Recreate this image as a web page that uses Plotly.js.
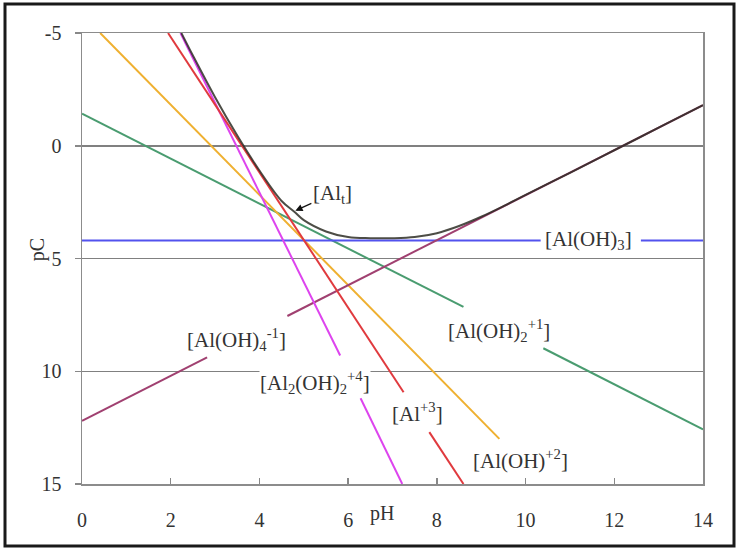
<!DOCTYPE html>
<html><head><meta charset="utf-8">
<script src="https://cdn.plot.ly/plotly-3.0.1.min.js"></script>
<style>html,body{margin:0;padding:0;background:#fff;} #chart{width:737px;height:548px;}</style>
</head><body><div id="chart"></div>
<script>
// Species lines (pH, pC); null = gap for a label
const pH_Al3 = [1.94, 7.25, null, 7.83, 8.6];
const pC_Al3 = [-5, 10.93, null, 12.7, 15];
const pH_AlOH = [0.41, 9.41];
const pC_AlOH = [-5, 13.0];
const pH_AlOH2 = [0, 8.6, null, 10.4, 14];
const pC_AlOH2 = [-1.42, 7.15, null, 8.98, 12.58];
const pH_AlOH3 = [0, 10.34, null, 12.6, 14];
const pC_AlOH3 = [4.2, 4.2, null, 4.2, 4.2];
const pH_AlOH4 = [0, 2.82, null, 4.63, 14];
const pC_AlOH4 = [12.2, 9.38, null, 7.55, -1.8];
const pH_Al2OH2 = [2.22, 5.82, null, 6.28, 7.22];
const pC_Al2OH2 = [-5, 9.3, null, 11.2, 15];
const pH_Alt = [2.24, 2.5, 3.0, 3.5, 4.0, 4.5, 4.8, 5.0, 5.5, 6.0, 6.5, 7.0, 7.5, 8.0, 8.5, 9.0, 9.5, 10.0, 11.0, 12.0, 13.0, 14.0];
const pC_Alt = [-5, -4.0, -2.15, -0.45, 1.1, 2.45, 2.95, 3.3, 3.8, 4.05, 4.1, 4.1, 4.05, 3.88, 3.56, 3.15, 2.68, 2.18, 1.2, 0.2, -0.8, -1.8];

const yTickVals = [-5, 0, 5, 10, 15];
const yTickText = ['-5', '0', '5', '10', '15'];
const xTickVals = [0, 2, 4, 6, 8, 10, 12, 14];
const xTickText = ['0', '2', '4', '6', '8', '10', '12', '14'];

const labels = [
  {x: 11.42, y: 4.2, text: '[Al(OH)<sub>3</sub>]'},
  {x: 9.39, y: 8.2, text: '[Al(OH)<sub>2</sub><sup>+1</sup>]'},
  {x: 9.89, y: 13.9, text: '[Al(OH)<sup>+2</sup>]'},
  {x: 7.56, y: 11.85, text: '[Al<sup>+3</sup>]'},
  {x: 5.26, y: 10.5, text: '[Al<sub>2</sub>(OH)<sub>2</sub><sup>+4</sup>]'},
  {x: 3.48, y: 8.6, text: '[Al(OH)<sub>4</sub><sup>-1</sup>]'}
];

const font = 'Liberation Serif, Times New Roman, serif';
function line(x, y, color, w) {
  return {x: x, y: y, type: 'scatter', mode: 'lines', connectgaps: false,
          line: {color: color, width: w || 2}, hoverinfo: 'skip', showlegend: false};
}
const traces = [
  line(pH_AlOH2, pC_AlOH2, '#4a9c70'),
  line(pH_AlOH, pC_AlOH, '#efb030'),
  line(pH_AlOH3, pC_AlOH3, '#5252ee'),
  line(pH_AlOH4, pC_AlOH4, '#a04070'),
  line(pH_Al2OH2, pC_Al2OH2, '#dd44ee'),
  line(pH_Al3, pC_Al3, '#e03a3e'),
];
const alt = line(pH_Alt, pC_Alt, '#2e2e26', 2);
alt.opacity = 0.85;
alt.line.shape = 'spline';
traces.push(alt);

const annotations = labels.map(l => ({
  x: l.x, y: l.y, xref: 'x', yref: 'y', text: l.text, showarrow: false,
  font: {family: font, size: 21, color: '#333'},
  bgcolor: l.text.indexOf('Al<sub>2</sub>') >= 0 ? '#ffffff' : 'rgba(0,0,0,0)', borderpad: 0
}));
annotations.push({
  x: 4.81, y: 2.88, xref: 'x', yref: 'y', text: '[Al<sub>t</sub>]',
  showarrow: true, ax: 37, ay: -17, arrowhead: 2, arrowsize: 1.2, arrowwidth: 1.2,
  arrowcolor: '#111', font: {family: font, size: 21, color: '#333'}
});
annotations.push({
  x: 0.483, y: -0.095, xref: 'paper', yref: 'paper', text: 'pH', showarrow: false,
  font: {family: font, size: 20, color: '#333'}
});
annotations.push({
  x: -0.092, y: 0.519, xref: 'paper', yref: 'paper', text: 'pC', showarrow: false,
  textangle: -90, font: {family: font, size: 20, color: '#333'}
});

const layout = {
  width: 737, height: 548,
  margin: {l: 82, r: 34, t: 33, b: 64},
  paper_bgcolor: '#ffffff', plot_bgcolor: '#ffffff',
  showlegend: false,
  font: {family: font, size: 20, color: '#333'},
  xaxis: {
    range: [0, 14], tickmode: 'array', tickvals: xTickVals, ticktext: xTickText,
    ticks: 'inside', ticklen: 6, tickcolor: '#888', tickwidth: 1.5,
    showgrid: false, zeroline: false,
    showline: true, linecolor: '#8c8c8c', linewidth: 1.5, mirror: true,
    ticklabelstandoff: 17,
    tickfont: {family: font, size: 20, color: '#333'}
  },
  yaxis: {
    range: [15, -5], tickmode: 'array', tickvals: yTickVals, ticktext: yTickText,
    ticks: 'outside', ticklen: 6, tickcolor: '#888', tickwidth: 1.5,
    showgrid: true, gridcolor: '#808080', gridwidth: 1.5, zeroline: false,
    showline: true, linecolor: '#8c8c8c', linewidth: 1.5, mirror: true,
    ticklabelstandoff: 9,
    tickfont: {family: font, size: 20, color: '#333'}
  },
  annotations: annotations,
  shapes: [{
    type: 'rect', xref: 'paper', yref: 'paper',
    x0: (5 - 82) / 621, x1: (734 - 82) / 621,
    y0: (484 - 546) / 451, y1: (484 - 4) / 451,
    line: {color: '#1a1a1a', width: 3}, fillcolor: 'rgba(0,0,0,0)', layer: 'above'
  }]
};

Plotly.newPlot('chart', traces, layout, {staticPlot: true, displayModeBar: false});
</script>
</body></html>
